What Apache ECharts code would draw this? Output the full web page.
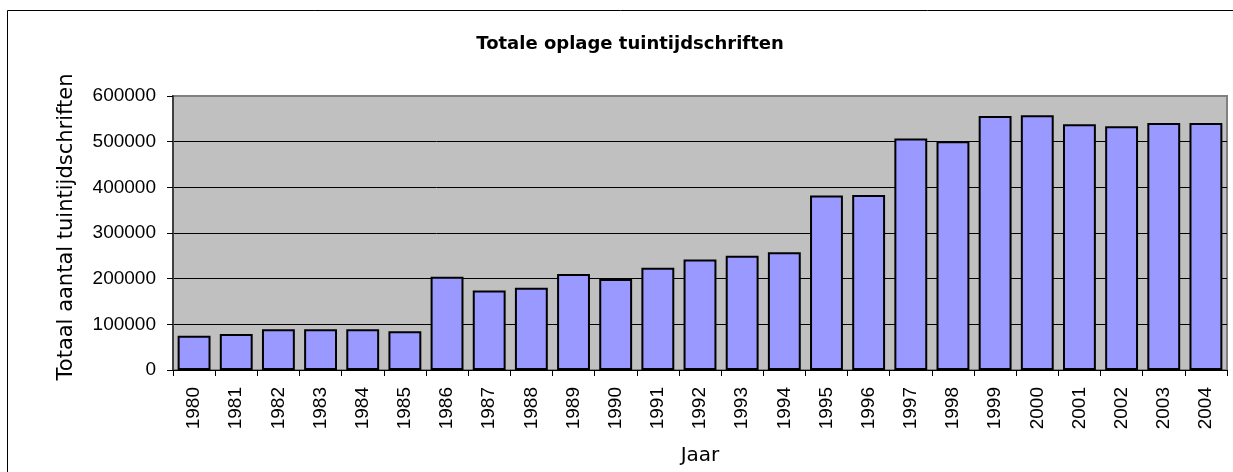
<!DOCTYPE html>
<html>
<head>
<meta charset="utf-8">
<script src="https://cdn.jsdelivr.net/npm/echarts@6/dist/echarts.min.js"></script>
<style>
  html, body { margin: 0; padding: 0; background: #fff; }
  #chart { width: 1233px; height: 472px; }
</style>
</head>
<body>
<div id="chart"></div>
<script>
// jaren en totale oplage
const years = ['1980', '1981', '1982', '1983', '1984', '1985', '1986', '1987', '1988', '1989',
  '1990', '1991', '1992', '1993', '1994', '1995', '1996', '1997', '1998', '1999',
  '2000', '2001', '2002', '2003', '2004'];
const oplage = [75000, 79000, 89000, 89000, 89000, 85000, 204000, 174000, 180000, 210000,
  199000, 224000, 242000, 250000, 258000, 382000, 383000, 507000, 501000, 556000,
  558000, 538000, 534000, 541000, 541000];

const chart = echarts.init(document.getElementById('chart'));

const font = 'Liberation Sans, Arial, sans-serif';
const wideFont = 'DejaVu Sans, Verdana, sans-serif';

chart.setOption({
  animation: false,
  backgroundColor: '#ffffff',
  graphic: [{
    type: 'rect',
    shape: { x: 7.5, y: 10.5, width: 1300, height: 600 },
    style: { fill: 'none', stroke: '#000', lineWidth: 1 },
    silent: true
  }],
  title: {
    text: 'Totale oplage tuintijdschriften',
    left: 625,
    textAlign: 'center',
    top: 30,
    textStyle: { fontFamily: wideFont, fontSize: 18, fontWeight: 'bold', color: '#000' }
  },
  grid: {
    left: 173,
    right: 6,
    top: 96,
    bottom: 102,
    show: true,
    backgroundColor: '#c0c0c0',
    borderColor: '#808080',
    borderWidth: 2
  },
  xAxis: {
    type: 'category',
    data: years,
    name: 'Jaar',
    nameLocation: 'middle',
    nameGap: 76,
    nameTextStyle: { fontFamily: wideFont, fontSize: 20, color: '#000' },
    axisLine: { lineStyle: { color: '#000', width: 1 } },
    axisTick: { show: true, length: 6, lineStyle: { color: '#000' } },
    axisLabel: { rotate: 90, interval: 0, margin: 17, fontFamily: font, fontSize: 19, color: '#000' }
  },
  yAxis: {
    type: 'value',
    min: 0,
    max: 600000,
    interval: 100000,
    name: 'Totaal aantal tuintijdschriften',
    nameLocation: 'middle',
    nameGap: 96,
    nameTextStyle: { fontFamily: wideFont, fontSize: 21, color: '#000', padding: [0, 0, 0, 12] },
    axisLine: { show: true, lineStyle: { color: '#404040', width: 2 } },
    axisTick: { show: true, length: 6, lineStyle: { color: '#000' } },
    axisLabel: { margin: 17, fontFamily: font, fontSize: 19, color: '#000', formatter: v => String(v) },
    splitLine: {
      show: true,
      lineStyle: { color: ['#000', '#000', '#000', '#000', '#000', '#000', '#808080'], width: 1 }
    }
  },
  series: [{
    type: 'bar',
    data: oplage,
    barCategoryGap: '22%',
    itemStyle: { color: '#9999ff', borderColor: '#000', borderWidth: 2 }
  }]
});
</script>
</body>
</html>
